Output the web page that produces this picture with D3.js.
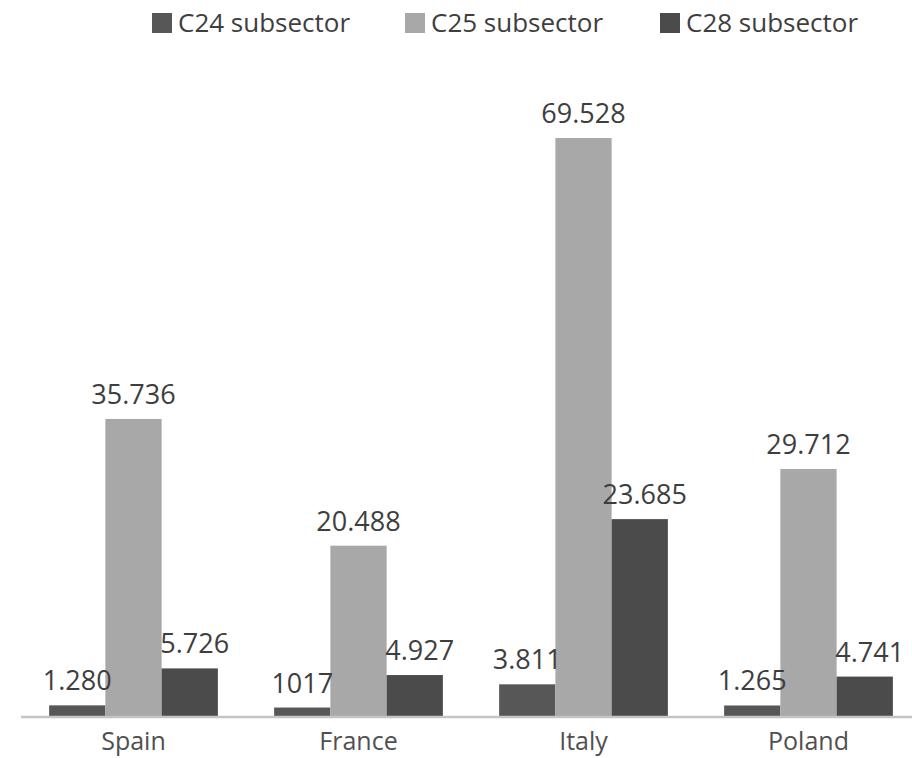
<!DOCTYPE html>
<html>
<head>
<meta charset="utf-8">
<script src="https://cdn.jsdelivr.net/npm/d3@7"></script>
<style>
  body { margin: 0; background: #fff; }
  text { font-family: "Open Sans", sans-serif; }
</style>
</head>
<body>
<script>
// chart size
var width = 912;
var height = 758;

var countries = ['Spain', 'France', 'Italy', 'Poland'];
var seriesNames = ['C24 subsector', 'C25 subsector', 'C28 subsector'];
var c24 = [1.280, 1.017, 3.811, 1.265];
var c25 = [35.736, 20.488, 69.528, 29.712];
var c28 = [5.726, 4.927, 23.685, 4.741];
// labels as printed in the picture
var c24Labels = ['1.280', '1017', '3.811', '1.265'];
var c25Labels = ['35.736', '20.488', '69.528', '29.712'];
var c28Labels = ['5.726', '4.927', '23.685', '4.741'];

var seriesValues = [c24, c25, c28];
var seriesLabels = [c24Labels, c25Labels, c28Labels];
var colors = ['#575757', '#a8a8a8', '#4b4b4b'];

var svg = d3.select('body')
            .append('svg')
            .attr('width', width)
            .attr('height', height);

var x0 = d3.scaleBand()
           .domain(countries)
           .range([21, 921])
           .paddingInner(0.25)
           .paddingOuter(0.125);

var x1 = d3.scaleBand()
           .domain(d3.range(seriesNames.length))
           .range([0, x0.bandwidth()]);

var y = d3.scaleLinear()
          .domain([0, 80])
          .range([716, 51]);

function rows(d, i){
  return seriesValues.map(function(s, j){ return { s: j, v: s[i], label: seriesLabels[j][i] }; });
}

// bars
var groups = svg.selectAll('g.country')
                .data(countries)
                .enter()
                .append('g')
                .attr('class', 'country')
                .attr('transform', function(d){ return 'translate(' + x0(d) + ',0)'; });

groups.selectAll('rect')
      .data(rows)
      .enter()
      .append('rect')
      .attr('x', function(d){ return x1(d.s); })
      .attr('y', function(d){ return y(d.v); })
      .attr('width', x1.bandwidth())
      .attr('height', function(d){ return y(0) - y(d.v); })
      .attr('fill', function(d){ return colors[d.s]; });

// axis line
svg.append('line')
   .attr('x1', 21)
   .attr('x2', width)
   .attr('y1', y(0) + 1)
   .attr('y2', y(0) + 1)
   .attr('stroke', '#c4c4c4')
   .attr('stroke-width', 2.5);

// value labels
groups.selectAll('text.val')
      .data(rows)
      .enter()
      .append('text')
      .attr('class', 'val')
      .attr('x', function(d){ return x1(d.s) + x1.bandwidth() / 2 + (d.s === 2 ? 5 : 0); })
      .attr('y', function(d){ return y(d.v) - 15; })
      .attr('text-anchor', 'middle')
      .attr('font-size', 27)
      .attr('fill', '#3e3e3e')
      .text(function(d){ return d.label; });

// category labels
svg.selectAll('text.cat')
   .data(countries)
   .enter()
   .append('text')
   .attr('class', 'cat')
   .attr('x', function(d){ return x0(d) + x0.bandwidth() / 2; })
   .attr('y', 750)
   .attr('text-anchor', 'middle')
   .attr('font-size', 25)
   .attr('fill', '#505050')
   .text(function(d){ return d; });

// legend
var legendX = [152, 405, 660];
var legend = svg.selectAll('g.legend')
                .data(seriesNames)
                .enter()
                .append('g')
                .attr('class', 'legend')
                .attr('transform', function(d, i){ return 'translate(' + legendX[i] + ',13)'; });

legend.append('rect')
      .attr('width', 20)
      .attr('height', 20)
      .attr('fill', function(d, i){ return colors[i]; });

legend.append('text')
      .attr('x', 26)
      .attr('y', 19)
      .attr('font-size', 26)
      .attr('fill', '#3e3e3e')
      .text(function(d){ return d; });
</script>
</body>
</html>
